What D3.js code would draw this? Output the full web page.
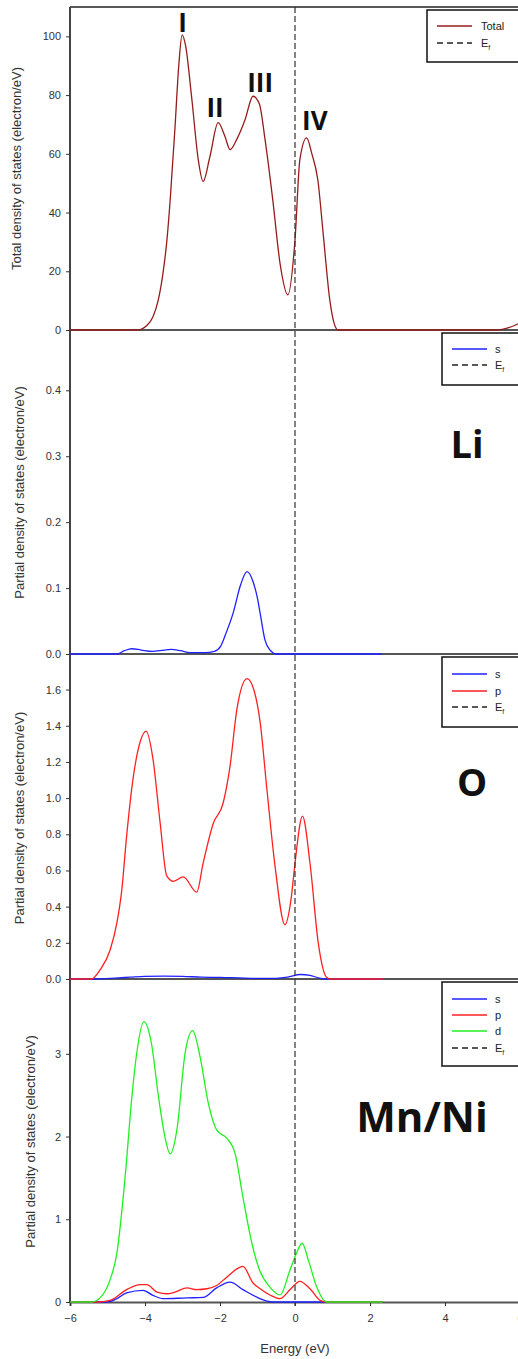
<!DOCTYPE html>
<html>
<head>
<meta charset="utf-8">
<script src="https://cdn.jsdelivr.net/npm/d3@7"></script>
<style>
  body { margin: 0; background: #fff; }
  text { font-family: "Liberation Sans", Arial, sans-serif; }
</style>
</head>
<body>
<div id="chart"></div>
<script>
// energy axis (eV)
var energyTicks = [-6, -4, -2, 0, 2, 4, 6];
var totalTicks = [0, 20, 40, 60, 80, 100];
var liTicks = [0, 0.1, 0.2, 0.3, 0.4];
var oTicks = [0, 0.2, 0.4, 0.6, 0.8, 1.0, 1.2, 1.4, 1.6];
var mnTicks = [0, 1, 2, 3];

// [energy, dos]
var totalDos = [[-6,0],[-4.2,0],[-3.95,1.5],[-3.79,4.4],[-3.65,10],[-3.52,19.4],[-3.42,30],[-3.33,44],[-3.2,69],[-3.1,90],[-3.01,100.5],[-2.92,97],[-2.75,78.5],[-2.58,58],[-2.45,50.6],[-2.27,59],[-2.05,70.6],[-1.87,66],[-1.73,61.4],[-1.55,65],[-1.33,71.7],[-1.12,79.6],[-0.95,77],[-0.8,65],[-0.59,44],[-0.4,22.8],[-0.19,12],[0,30.7],[0.13,58],[0.31,65.4],[0.45,60],[0.61,51],[0.75,33],[0.93,10],[1.05,2],[1.15,0],[5.4,0],[5.7,0.8],[6,2.4]];

var liS = [[-6,0],[-4.75,0],[-4.55,0.005],[-4.35,0.008],[-4.1,0.006],[-3.8,0.004],[-3.5,0.006],[-3.3,0.007],[-3.05,0.005],[-2.8,0.002],[-2.4,0.002],[-2.15,0.004],[-1.98,0.012],[-1.85,0.03],[-1.65,0.062],[-1.45,0.105],[-1.28,0.125],[-1.12,0.11],[-1.01,0.087],[-0.93,0.062],[-0.8,0.021],[-0.65,0.005],[-0.5,0],[2.32,0]];

var oS = [[-6,0],[-5.4,0],[-4.8,0.005],[-4.4,0.01],[-4,0.015],[-3.5,0.016],[-3,0.015],[-2.5,0.01],[-2,0.009],[-1.5,0.006],[-1,0.003],[-0.5,0.004],[-0.2,0.01],[0.15,0.025],[0.4,0.02],[0.65,0.005],[0.85,0],[2.34,0]];
var oP = [[-6,0],[-5.43,0],[-5.2,0.05],[-4.93,0.16],[-4.75,0.31],[-4.62,0.49],[-4.49,0.79],[-4.31,1.12],[-4.13,1.31],[-3.97,1.37],[-3.79,1.22],[-3.6,0.87],[-3.42,0.57],[-3.24,0.54],[-2.98,0.565],[-2.62,0.48],[-2.45,0.64],[-2.18,0.86],[-1.92,0.97],[-1.73,1.18],[-1.55,1.49],[-1.28,1.66],[-1.1,1.6],[-0.93,1.42],[-0.75,1.05],[-0.53,0.62],[-0.27,0.3],[-0.1,0.45],[0,0.64],[0.2,0.9],[0.4,0.64],[0.62,0.2],[0.84,0.01],[0.95,0],[2.34,0]];

var mnS = [[-6,0],[-5.0,0],[-4.75,0.04],[-4.49,0.11],[-4.05,0.14],[-3.79,0.08],[-3.52,0.04],[-2.88,0.05],[-2.45,0.055],[-2.09,0.17],[-1.73,0.24],[-1.39,0.15],[-0.98,0.05],[-0.75,0.01],[-0.6,0],[2.34,0]];
var mnP = [[-6,0],[-5.28,0],[-4.93,0.02],[-4.49,0.15],[-4.13,0.21],[-3.95,0.21],[-3.68,0.12],[-3.42,0.1],[-3.2,0.12],[-2.88,0.17],[-2.62,0.15],[-2.35,0.16],[-2.09,0.2],[-1.82,0.3],[-1.55,0.4],[-1.39,0.43],[-1.12,0.23],[-0.93,0.16],[-0.67,0.085],[-0.4,0.04],[-0.13,0.15],[0.13,0.25],[0.4,0.16],[0.67,0.02],[0.84,0],[2.34,0]];
var mnD = [[-6,0],[-5.43,0],[-5.2,0.05],[-4.93,0.27],[-4.75,0.59],[-4.53,1.51],[-4.35,2.48],[-4.22,3.01],[-4.03,3.39],[-3.83,3.13],[-3.64,2.48],[-3.47,2.0],[-3.33,1.79],[-3.15,2.08],[-2.93,3.01],[-2.73,3.28],[-2.53,2.96],[-2.31,2.4],[-2.09,2.08],[-1.82,1.98],[-1.6,1.8],[-1.39,1.27],[-1.15,0.71],[-0.95,0.39],[-0.67,0.18],[-0.4,0.085],[-0.13,0.39],[0.04,0.59],[0.19,0.71],[0.36,0.5],[0.58,0.18],[0.84,0],[2.34,0]];

var peakNames = ["I", "II", "III", "IV"];
var peakPos = [[-3.0, 101.5], [-2.13, 72.5], [-0.93, 81], [0.53, 68]];

var width = 518, height = 1359;
var svg = d3.select("#chart").append("svg")
    .attr("width", width)
    .attr("height", height);

var x = d3.scaleLinear().domain([-6, 6]).range([70, 520]);

var blue = "#2020ff", red = "#ff2020", green = "#20f020";

var panels = [
    { top: 7, bottom: 330, max: 110, ticks: totalTicks, fmt: d3.format("d"),
      title: "Total density of states (electron/eV)", titleX: 21,
      series: [{ name: "Total", data: totalDos, color: "#951c1c" }],
      legend: { x: 427, y: 10, h: 52, lx: 437, tx: 481, rows: [26, 43] } },
    { top: 331, bottom: 654, max: 0.49, ticks: liTicks, fmt: d3.format(".1f"),
      title: "Partial density of states (electron/eV)", titleX: 24,
      series: [{ name: "s", data: liS, color: blue }],
      legend: { x: 442, y: 333, h: 52, lx: 452, tx: 495, rows: [349, 365] },
      label: { text: "Li", x: 467, y: 458, size: 38 } },
    { top: 657, bottom: 979, max: 1.78, ticks: oTicks, fmt: d3.format(".1f"),
      title: "Partial density of states (electron/eV)", titleX: 24,
      series: [{ name: "s", data: oS, color: blue }, { name: "p", data: oP, color: red }],
      legend: { x: 442, y: 657, h: 70, lx: 452, tx: 495, rows: [674, 691, 707] },
      label: { text: "O", x: 472, y: 796, size: 38 } },
    { top: 981, bottom: 1302, max: 3.88, ticks: mnTicks, fmt: d3.format("d"),
      title: "Partial density of states (electron/eV)", titleX: 35,
      series: [{ name: "s", data: mnS, color: blue }, { name: "p", data: mnP, color: red }, { name: "d", data: mnD, color: green }],
      legend: { x: 442, y: 982, h: 84, lx: 452, tx: 495, rows: [999, 1015, 1031, 1048] },
      label: { text: "Mn/Ni", x: 422, y: 1132, size: 42 } }
];

// frame lines go underneath the curves
svg.append("line")
    .attr("x1", 70).attr("x2", width)
    .attr("y1", 7).attr("y2", 7)
    .style("stroke", "#222").style("stroke-width", 1.5);

svg.append("line")
    .attr("x1", 70).attr("x2", 70)
    .attr("y1", 7).attr("y2", 1303)
    .style("stroke", "#444").style("stroke-width", 2);

var xAxis = svg.append("g")
    .attr("transform", "translate(0,1302)")
    .call(d3.axisBottom(x).tickValues(energyTicks).tickFormat(d3.format("d")).tickSize(4).tickPadding(8));
xAxis.select(".domain").attr("stroke", "#555").attr("stroke-width", 2);
xAxis.selectAll("line").attr("stroke", "#333");
xAxis.selectAll("text").style("font-size", "11px").attr("fill", "#333");

svg.append("text")
    .attr("x", x(0)).attr("y", 1353)
    .attr("text-anchor", "middle")
    .style("font-size", "13px")
    .attr("fill", "#333")
    .text("Energy (eV)");

panels.forEach(function(p, i) {
    var y = d3.scaleLinear().domain([0, p.max]).range([p.bottom, p.top]);
    var g = svg.append("g");

    // bottom line of panel
    if (i < panels.length - 1) {
        g.append("line")
            .attr("x1", 70).attr("x2", width)
            .attr("y1", p.bottom).attr("y2", p.bottom)
            .style("stroke", "#555").style("stroke-width", 2);
    }

    var yAxis = g.append("g")
        .attr("transform", "translate(70,0)")
        .call(d3.axisLeft(y).tickValues(p.ticks).tickFormat(p.fmt).tickSize(4).tickPadding(5));
    yAxis.select(".domain").remove();
    yAxis.selectAll("line").attr("stroke", "#333");
    yAxis.selectAll("text").style("font-size", "11px").attr("fill", "#333");

    var line = d3.line()
        .x(function(d) { return x(d[0]); })
        .y(function(d) { return y(d[1]); })
        .curve(d3.curveMonotoneX);

    p.series.forEach(function(s) {
        g.append("path")
            .datum(s.data)
            .attr("d", line)
            .style("fill", "none")
            .style("stroke", s.color)
            .style("stroke-width", 1.3);
    });

    g.append("text")
        .attr("transform", "translate(" + p.titleX + "," + ((p.top + p.bottom) / 2) + ") rotate(-90)")
        .attr("text-anchor", "middle")
        .style("font-size", "13px")
        .attr("fill", "#333")
        .text(p.title);

    // legend
    var lg = g.append("g");
    lg.append("rect")
        .attr("x", p.legend.x).attr("y", p.legend.y)
        .attr("width", width - p.legend.x + 5).attr("height", p.legend.h)
        .style("fill", "#fff").style("stroke", "#111").style("stroke-width", 1.5);
    var items = p.series.map(function(s) { return { name: s.name, color: s.color, dash: null }; });
    items.push({ name: "E", color: "#222", dash: "6,4" });
    items.forEach(function(it, k) {
        var ry = p.legend.rows[k];
        lg.append("line")
            .attr("x1", p.legend.lx).attr("x2", p.legend.lx + 35)
            .attr("y1", ry).attr("y2", ry)
            .style("stroke", it.color).style("stroke-width", 1.3)
            .style("stroke-dasharray", it.dash);
        var t = lg.append("text")
            .attr("x", p.legend.tx).attr("y", ry + 4)
            .style("font-size", "11px").attr("fill", "#222")
            .text(it.name);
        if (it.name == "E") {
            t.append("tspan").attr("dy", 3).style("font-size", "7px").text("f");
        }
    });

    if (p.label) {
        g.append("text")
            .attr("x", p.label.x).attr("y", p.label.y)
            .attr("text-anchor", "middle")
            .style("font-family", "'Open Sans', sans-serif")
            .style("font-weight", "bold")
            .style("font-size", p.label.size + "px")
            .attr("fill", "#111")
            .text(p.label.text);
    }

    if (i == 0) {
        // peak labels on the total DOS
        g.selectAll(".peak")
            .data(peakNames)
            .enter().append("text")
            .attr("class", "peak")
            .attr("x", function(d, k) { return x(peakPos[k][0]); })
            .attr("y", function(d, k) { return y(peakPos[k][1]); })
            .attr("text-anchor", "middle")
            .style("font-family", "'Open Sans', sans-serif")
            .style("font-weight", "bold")
            .style("font-size", "26px")
            .attr("fill", "#111")
            .text(function(d) { return d; });
    }
});

// Fermi level
svg.append("line")
    .attr("x1", x(0)).attr("x2", x(0))
    .attr("y1", 7).attr("y2", 1306)
    .style("stroke", "#333").style("stroke-width", 1.2)
    .style("stroke-dasharray", "6,3");
</script>
</body>
</html>
